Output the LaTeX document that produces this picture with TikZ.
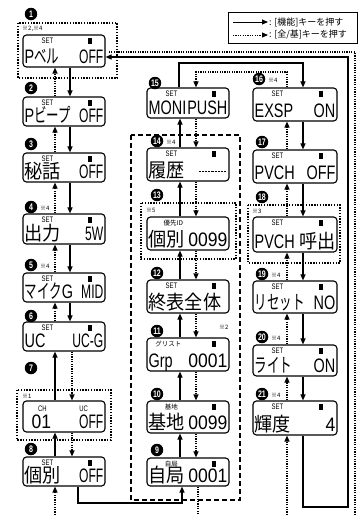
\documentclass[tikz,border=0pt]{standalone}
\usepackage{fontspec}
\setmainfont{Liberation Sans}
\newfontfamily\jp{Noto Sans CJK JP}
\newfontfamily\lcd[FakeStretch=0.74]{Liberation Sans}
\newfontfamily\lcdc[FakeStretch=0.62]{Liberation Sans}
\newfontfamily\lcdn[FakeStretch=0.9]{Liberation Sans}
\newfontfamily\lcdj[FakeStretch=0.93]{Noto Sans CJK JP}
\newfontfamily\lcdk[FakeStretch=0.64]{Noto Sans CJK JP}
\newcommand\JJ[1]{{\lcdj #1}}
\newcommand\KK[1]{{\lcdk #1}}
\newcommand\NN[1]{{\lcdn #1}}
\newcommand\CC[1]{{\lcdc #1}}
\usetikzlibrary{arrows.meta}
% name, cx, top, bottom, width, left text, right text
\newcommand\LB[7]{%
  \node[lcdbox, minimum width=#5pt, minimum height={(#4)-(#3)}] (#1) at (#2,{((#3)+(#4))/2}) {};
  \node[lcdtxt, anchor=base west] (#1-l) at ([xshift=2pt,yshift=4.5pt]#1.south west) {#6};
  \node[lcdtxt, anchor=base east] (#1-r) at ([xshift=-2pt,yshift=4.5pt]#1.south east) {#7};
}
\newcommand\SL[3]{\node[setlbl] (#1-s) at ([xshift=#2pt,yshift=-6.8pt]#1.north west) {#3};}
\newcommand\JL[3]{\node[jlbl] (#1-s) at ([xshift=#2pt,yshift=-6.8pt]#1.north west) {#3};}
\newcommand\IND[2]{\fill ([xshift=-#2pt,yshift=-4pt]#1.north east) rectangle ++(4,6);}
\begin{document}
\begin{tikzpicture}[x=1pt,y=-1pt,
  lcdbox/.style={draw, line width=1.15pt, rounded corners=3.5pt, inner sep=0pt},
  lcdtxt/.style={inner sep=0pt, text height=14pt, text depth=1.5pt, font=\lcd\fontsize{19.5}{19.5}\selectfont},
  setlbl/.style={inner sep=0pt, text height=5.5pt, text depth=0pt, font=\lcd\fontsize{8}{8}\selectfont},
  jlbl/.style={inner sep=0pt, text height=5pt, text depth=0.5pt, font=\jp\fontsize{6.5}{6.5}\selectfont},
  mk/.style={circle, fill=black, text=white, inner sep=0pt, minimum size=12.5pt, font=\lcd\bfseries\fontsize{9.5}{9.5}\selectfont},
  notel/.style={inner sep=0pt, anchor=west, font=\jp\fontsize{6}{6}\selectfont},
  arrtip/.style={-{Triangle[length=6pt,width=5pt]}},
  sol/.style={line width=1.1pt, arrtip},
  dotl/.style={line width=1.2pt, dash pattern=on 1.2pt off 1.2pt},
  dotar/.style={dotl, arrtip},
  dotbox/.style={line width=1.2pt, dash pattern=on 1.4pt off 1.4pt},
  dashbox/.style={line width=1.1pt, dash pattern=on 5pt off 3pt},
]
\useasboundingbox (0,0) rectangle (360,515);

% ---------- legend ----------
\node[draw, line width=0.9pt, minimum width=129pt, minimum height=31pt, inner sep=0pt] (leg) at (292.5,28) {};
\coordinate (la1) at (233,22); \coordinate (la2) at (268,22);
\coordinate (lb1) at (233,35); \coordinate (lb2) at (268,35);
\draw[sol, line width=0.9pt] (la1) -- (la2);
\draw[dotar, line width=0.9pt] (lb1) -- (lb2);
\node[anchor=west, inner sep=0pt, font=\jp\fontsize{9}{9}\selectfont] (lt1) at (269,22) {: [機能]キーを押す};
\node[anchor=west, inner sep=0pt, font=\jp\fontsize{9}{9}\selectfont] (lt2) at (269,35) {: [全/基]キーを押す};

% ---------- frames ----------
\draw[dotbox] (18,23) rectangle (117,78);
\draw[dotbox] (17,390) rectangle (111,440);
\draw[dashbox] (131,135) rectangle (240,500);
\draw[dotbox] (141,203) rectangle (236,259);
\draw[dotbox] (248,205) rectangle (340,263);

% ---------- left column ----------
\LB{b1}{64}{35}{67}{82}{P\KK{ベル}}{\CC{OFF}}
\LB{b2}{64}{97}{126}{82}{P\KK{ビープ}}{\CC{OFF}}
\LB{b3}{64}{153}{182}{82}{\JJ{秘話}}{\CC{OFF}}
\LB{b4}{64}{214}{244}{82}{\JJ{出力}}{\CC{5W}}
\LB{b5}{64}{273}{302}{82}{\KK{マイク}G}{\CC{MID}}
\LB{b6}{64}{322}{351}{82}{UC}{\CC{UC-G}}
\LB{b7}{64}{401}{432}{82}{\hspace{7pt}\NN{01}}{\CC{OFF}}
\LB{b8}{64}{457}{486}{82}{\JJ{個別}}{\CC{OFF}}
\foreach \b in {b1,b2,b3,b4,b5,b6,b8}{\SL{\b}{25}{SET}\IND{\b}{18}}
\node[setlbl] (b7-s) at ([xshift=20pt,yshift=-8pt]b7.north west) {CH};
\node[setlbl] (b7-u) at ([xshift=-22pt,yshift=-8pt]b7.north east) {UC};

% ---------- middle column ----------
\LB{b15}{188}{88}{118}{82}{MONI}{PUSH}
\LB{b14}{188}{148}{181}{82}{\JJ{履歴}}{}
\LB{b13}{188}{217}{250}{82}{\JJ{個別}}{\NN{0099}}
\LB{b12}{188}{280}{313}{82}{\JJ{終表全体}}{}
\LB{b11}{188}{338}{371}{82}{Grp}{\NN{0001}}
\LB{b10}{188}{401}{433}{82}{\JJ{基地}}{\NN{0099}}
\LB{b9}{188}{458}{486}{82}{\JJ{自局}}{\NN{0001}}
\SL{b15}{25}{SET}\SL{b14}{25}{SET}\SL{b12}{25}{SET}
\JL{b13}{27}{優先ID}\JL{b11}{22}{グリスト}\JL{b10}{25}{基地}\JL{b9}{25}{自局}
\foreach \b in {b15,b14,b12,b11,b10,b9}{\IND{\b}{18}}
\draw[line width=0.8pt, dash pattern=on 2.2pt off 1pt] ([xshift=-31pt,yshift=-7pt]b14.east) -- ([xshift=-3pt,yshift=-7pt]b14.east);

% ---------- right column ----------
\LB{b16}{295}{88}{121}{84}{EXSP}{ON}
\LB{b17}{295}{150}{183}{84}{PVCH}{OFF}
\LB{b18}{295}{217}{252}{84}{PVCH}{\JJ{呼出}}
\LB{b19}{295}{281}{313}{84}{\KK{リセット}}{NO}
\LB{b20}{295}{345}{376}{84}{\KK{ライト}}{ON}
\LB{b21}{295}{401}{435}{84}{\JJ{輝度}}{\NN{4}}
\foreach \b in {b16,b17,b18,b19,b20,b21}{\SL{\b}{25}{SET}\IND{\b}{19}}

% ---------- markers and notes ----------
\node[mk] (m1) at (31,14) {1};
\node[mk] (m2) at (31,88) {2};
\node[mk] (m3) at (31,144) {3};
\node[mk] (m4) at (31,207) {4};
\node[mk] (m5) at (31,265) {5};
\node[mk] (m6) at (31,316) {6};
\node[mk] (m7) at (31,368) {7};
\node[mk] (m8) at (31,449) {8};
\node[mk] (m9) at (157,450) {9};
\node[mk] (m10) at (157,394) {10};
\node[mk] (m11) at (157,331) {11};
\node[mk] (m12) at (157,273) {12};
\node[mk] (m13) at (157,195) {13};
\node[mk] (m14) at (157,141) {14};
\node[mk] (m15) at (155,83) {15};
\node[mk] (m16) at (259,79) {16};
\node[mk] (m17) at (262,142) {17};
\node[mk] (m18) at (262,197) {18};
\node[mk] (m19) at (262,274) {19};
\node[mk] (m20) at (262,337) {20};
\node[mk] (m21) at (262,394) {21};
\node[notel] (n1) at (22,29) {※2,※4};
\node[notel] (n4) at (40,208) {※4};
\node[notel] (n5) at (40,266) {※4};
\node[notel] (n7) at (22,396) {※1};
\node[notel] (n14) at (166,142) {※4};
\node[notel] (n13) at (146,210) {※5};
\node[notel] (n11) at (219,327) {※2};
\node[notel] (n16) at (268,80) {※4};
\node[notel] (n18) at (252,211) {※3};
\node[notel] (n19) at (271,275) {※4};
\node[notel] (n20) at (271,338) {※4};
\node[notel] (n21) at (271,395) {※4};

% ---------- left column connectors ----------
\foreach \u/\l in {b1/b2,b2/b3,b3/b4,b4/b5,b5/b6}{
  \draw[sol] ([xshift=6pt]\u.south) -- ([xshift=6pt]\l.north);
  \draw[dotar] ([xshift=-9pt]\l.north) -- ([xshift=-9pt]\u.south);
}
\foreach \u/\l in {b6/b7,b7/b8}{
  \draw[sol] ([xshift=-9pt]\l.north) -- ([xshift=-9pt]\u.south);
  \draw[dotar] ([xshift=8pt]\u.south) -- ([xshift=8pt]\l.north);
}
% ---------- middle column connectors ----------
\foreach \u/\l in {b15/b14,b14/b13,b13/b12,b12/b11,b11/b10,b10/b9}{
  \draw[sol] ([xshift=-8pt]\l.north) -- ([xshift=-8pt]\u.south);
  \draw[dotar] ([xshift=8pt]\u.south) -- ([xshift=8pt]\l.north);
}
% ---------- right column connectors ----------
\foreach \u/\l in {b16/b17,b17/b18,b18/b19,b19/b20,b20/b21}{
  \draw[sol] ([xshift=8pt]\u.south) -- ([xshift=8pt]\l.north);
  \draw[dotar] ([xshift=-8pt]\l.north) -- ([xshift=-8pt]\u.south);
}

% ---------- top links between 15 and 16 ----------
\coordinate (c1) at (179,63); \coordinate (c2) at (303,63);
\draw[sol] ([xshift=-9pt]b15.north) -- (c1) -- (c2) -- ([xshift=8pt]b16.north);
\coordinate (d1) at (287,72); \coordinate (d2) at (196,72);
\draw[dotar] ([xshift=-8pt]b16.north) -- (d1) -- (d2) -- ([xshift=8pt]b15.north);

% ---------- long return loops ----------
\coordinate (e1) at (303,507); \coordinate (e2) at (348,507); \coordinate (e3) at (348,57);
\draw[sol] ([xshift=8pt]b21.south) -- (e1) -- (e2) -- (e3) -- (b1.east |- e3);
\coordinate (f0) at (355,515); \coordinate (f1) at (355,52);
\draw[dotl] (f0) -- (f1) -- ([xshift=3pt]b1.east |- f1);

% ---------- bottom links ----------
\coordinate (g1) at (78,503); \coordinate (g2) at (182,503);
\draw[sol] ([xshift=14pt]b8.south) -- (g1) -- (g2) -- ([xshift=-6pt]b9.south);
\coordinate (h1) at (55,515); \coordinate (h2) at (287,515); \coordinate (h3) at (198,515);
\draw[dotar] (h1) -- ([xshift=-9pt]b8.south);
\draw[dotar] (h2) -- ([xshift=-8pt]b21.south);
\draw[dotl] ([xshift=10pt]b9.south) -- (h3);
\end{tikzpicture}
\end{document}
